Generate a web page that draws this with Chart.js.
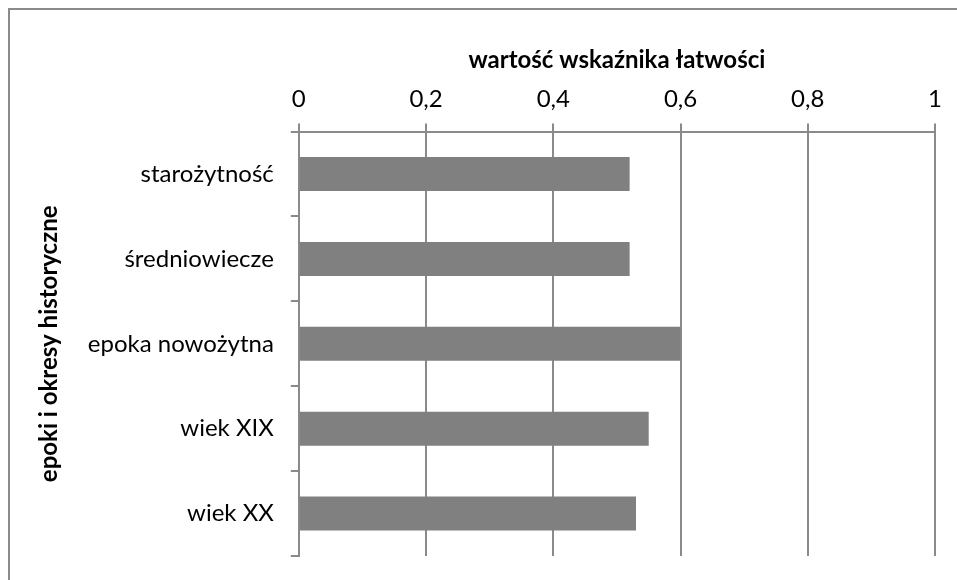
<!DOCTYPE html>
<html>
<head>
<meta charset="utf-8">
<script src="https://cdn.jsdelivr.net/npm/chart.js@4/dist/chart.umd.min.js"></script>
<style>
  html, body { margin: 0; padding: 0; background: #fff; overflow: hidden; }
  #frame { position: absolute; left: 8px; top: 8px; width: 1200px; height: 900px; border: 2px solid #8a8a8a; box-sizing: border-box; }
  #wrap { position: absolute; left: 0; top: 0; width: 957px; height: 580px; }
</style>
</head>
<body>
<div id="frame"></div>
<div id="wrap"><canvas id="wykres" width="957" height="580"></canvas></div>
<script>
// dane
const epoki = ['starożytność', 'średniowiecze', 'epoka nowożytna', 'wiek XIX', 'wiek XX'];
const wskaznik = [0.52, 0.52, 0.60, 0.55, 0.53];
const ticksX = [0, 0.2, 0.4, 0.6, 0.8, 1];

const szary = '#8a8a8a';
const czcionka = 'Lato, "Open Sans", sans-serif';

var ctx = document.getElementById('wykres').getContext('2d');

var wykres = new Chart(ctx, {
    type: 'bar',
    data: {
        labels: epoki,
        datasets: [{
            label: 'wartość wskaźnika łatwości',
            data: wskaznik,
            backgroundColor: '#808080',
            borderWidth: 0,
            barPercentage: 0.4,
            categoryPercentage: 1
        }]
    },
    options: {
        indexAxis: 'y',
        responsive: false,
        animation: false,
        layout: { padding: { left: 30, right: 22, top: 46, bottom: 24 } },
        plugins: {
            legend: { display: false },
            tooltip: { enabled: false }
        },
        scales: {
            x: {
                position: 'top',
                min: 0,
                max: 1,
                afterBuildTicks: (axis) => { axis.ticks = ticksX.map(v => ({ value: v })); },
                ticks: {
                    color: '#000',
                    font: { family: czcionka, size: 24 },
                    padding: 10,
                    maxRotation: 0,
                    callback: (v) => String(Number(v.toFixed(1))).replace('.', ',')
                },
                grid: { color: szary, lineWidth: 2, tickLength: 8 },
                border: { color: szary, width: 2 },
                title: {
                    display: true,
                    text: 'wartość wskaźnika łatwości',
                    color: '#000',
                    font: { family: czcionka, size: 24, weight: 'bold' },
                    padding: { top: 0, bottom: 0 }
                }
            },
            y: {
                // etykiety kategorii nie potrzebują dodatkowego miejsca na dole
                afterFit: (s) => { s.paddingTop = 0; s.paddingBottom = 0; },
                ticks: {
                    color: '#000',
                    font: { family: czcionka, size: 24 },
                    padding: 17
                },
                grid: { color: szary, lineWidth: 2, tickLength: 8, drawOnChartArea: false, offset: true },
                border: { color: szary, width: 2 },
                title: {
                    display: true,
                    text: 'epoki i okresy historyczne',
                    color: '#000',
                    font: { family: czcionka, size: 24, weight: 'bold' },
                    padding: { top: 5, bottom: 7 }
                }
            }
        }
    }
});
</script>
</body>
</html>
